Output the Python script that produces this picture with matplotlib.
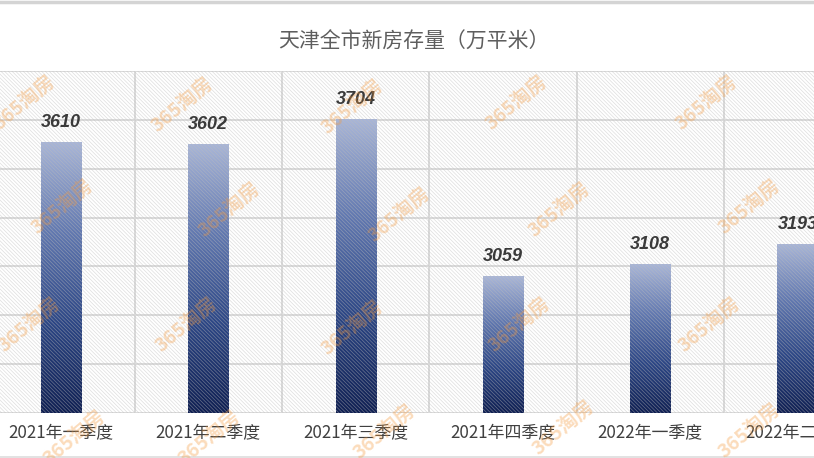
import numpy as np
import matplotlib
matplotlib.use("Agg")
import matplotlib.pyplot as plt
from matplotlib.patches import Rectangle
from matplotlib.colors import LinearSegmentedColormap
from matplotlib.lines import Line2D

plt.rcParams['font.family'] = ['Noto Sans CJK SC', 'DejaVu Sans']
plt.rcParams['hatch.linewidth'] = 0.5

# ---- data ----
title = "天津全市新房存量（万平米）"
categories = ["2021年一季度", "2021年二季度", "2021年三季度",
              "2021年四季度", "2022年一季度", "2022年二季度"]
values = [3610, 3602, 3704, 3059, 3108, 3193]
y_ticks = [2500, 2700, 2900, 3100, 3300, 3500, 3700, 3900]
watermark = "365淘房"

fig = plt.figure(figsize=(8.14, 4.58), dpi=100)
ax = fig.add_axes([0.0, 45 / 458, 1.0, 342 / 458])
ax.set_xlim(-0.414, 5.112)
ax.set_ylim(y_ticks[0], y_ticks[-1])

# gridlines
ax.set_yticks(y_ticks)
ax.set_yticklabels([])
x = np.arange(len(categories))
ax.set_xticks(x)
ax.set_xticklabels(categories, fontsize=12.2, color='#404040')
ax.set_xticks(x[:-1] + 0.5, minor=True)
ax.tick_params(axis='both', which='both', length=0)
ax.tick_params(axis='x', pad=8)
ax.grid(True, which='major', axis='y', color='#dadada', linewidth=1.4, zorder=0.5)
ax.grid(True, which='minor', axis='x', color='#dadada', linewidth=1.4, zorder=0.5)
ax.set_axisbelow(True)
for s in ax.spines.values():
    s.set_visible(False)

# gradient bars
cmap = LinearSegmentedColormap.from_list(
    "bar", ["#0f1f52", "#2c4685", "#6178b0", "#a9b6d8"])
grad = np.linspace(0, 1, 256).reshape(-1, 1)
bw = 0.272
bars = ax.bar(x, [v - y_ticks[0] for v in values], bottom=y_ticks[0], width=bw,
              color='none', edgecolor='none', zorder=2)
for rect, v in zip(bars, values):
    x0 = rect.get_x()
    im = ax.imshow(grad, cmap=cmap, origin='lower', aspect='auto',
                   extent=[x0, x0 + bw, y_ticks[0], v], zorder=2,
                   interpolation='bicubic')
    im.set_clip_path(rect)
    ax.annotate(f"{v}", (rect.get_x() + bw / 2, v), xytext=(0, 8),
                textcoords='offset points', ha='center', va='bottom',
                fontsize=13, fontweight='bold', fontstyle='italic',
                family=['Liberation Sans', 'DejaVu Sans'], color='#3a3a3a', zorder=5)
ax.set_xlim(-0.414, 5.112)
ax.set_ylim(y_ticks[0], y_ticks[-1])

# hatch overlay
hatch = Rectangle((0, 0), 1, 1, transform=ax.transAxes, facecolor='none',
                  edgecolor='#bdbdbd', linewidth=0, hatch='\\' * 9,
                  alpha=0.5, zorder=3)
ax.add_patch(hatch)

# watermarks (pixel positions)
wm_pos = [(25, 103), (183, 105), (353, 107), (517, 103), (707, 103),
          (63, 207), (230, 210), (400, 215), (560, 210), (750, 207),
          (30, 325), (187, 325), (353, 328), (520, 325), (710, 325),
          (75, 438), (210, 438), (385, 432), (564, 428), (750, 431)]
for px, py in wm_pos:
    fig.text(px / 814, 1 - py / 458, watermark, rotation=40, ha='center',
             va='center', fontsize=14, fontweight='bold', color='#f59a3e',
             alpha=0.35, zorder=4)

# title
fig.text(0.508, 1 - 42 / 458, title, ha='center', va='center',
         fontsize=15, color='#5e5e5e')

# frame lines
fig.add_artist(Line2D([0, 1], [1 - 1.5 / 458, 1 - 1.5 / 458],
                      transform=fig.transFigure, color='#d4d4d4', linewidth=2.5))
fig.add_artist(Line2D([0, 1], [0.8 / 458, 0.8 / 458],
                      transform=fig.transFigure, color='#dddddd', linewidth=1.2))

fig.savefig("out.png", dpi=100)
